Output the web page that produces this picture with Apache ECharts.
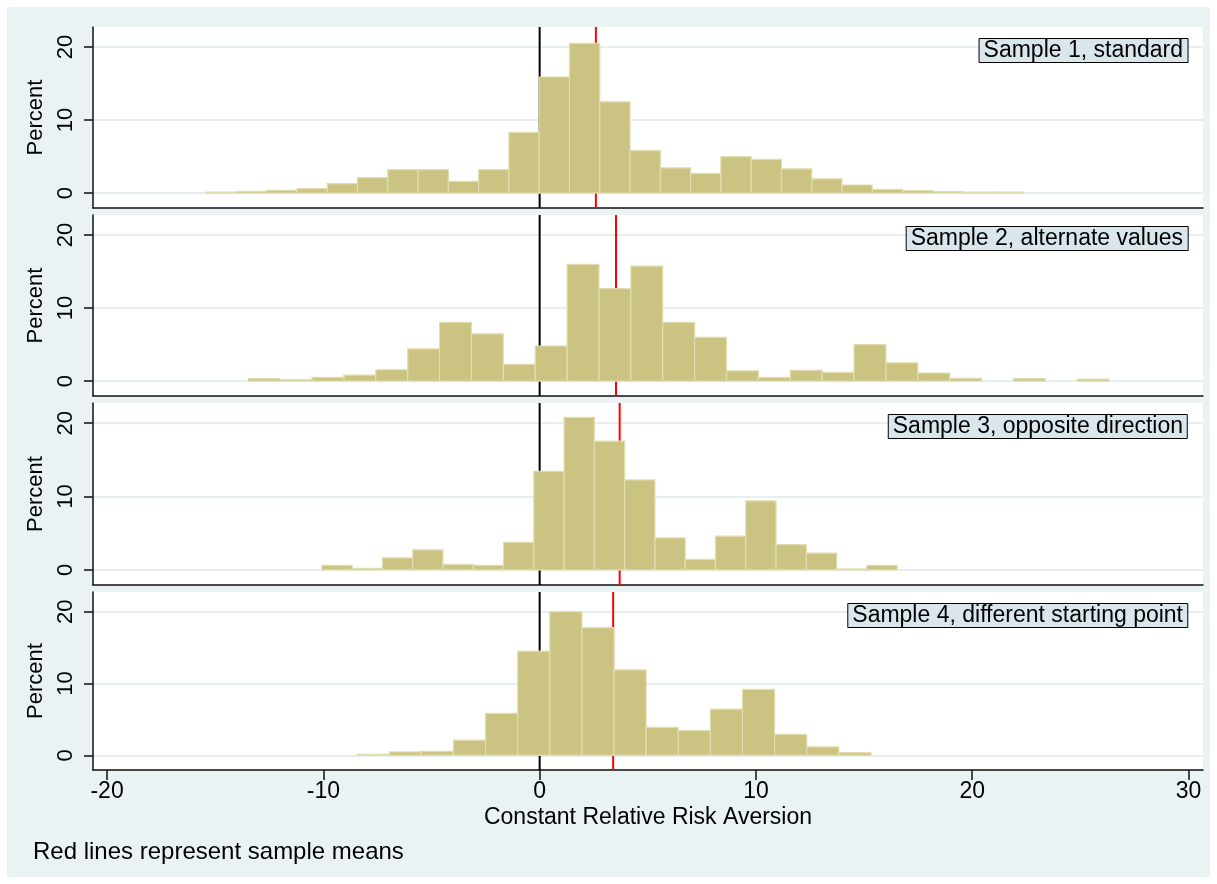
<!DOCTYPE html>
<html>
<head>
<meta charset="utf-8">
<script src="https://cdn.jsdelivr.net/npm/echarts@6/dist/echarts.min.js"></script>
<style>
html, body { margin: 0; padding: 0; background: #fff; }
#chart { width: 1217px; height: 884px; }
</style>
</head>
<body>
<div id="chart"></div>
<script>
// histogram data, percent per bin
const panelLabels = ['Sample 1, standard', 'Sample 2, alternate values', 'Sample 3, opposite direction', 'Sample 4, different starting point'];
const binStart = [-15.42, -13.47, -10.07, -8.44];
const binWidth = [1.4, 1.474, 1.4, 1.485];
const sample1 = [0.14, 0.23, 0.36, 0.6, 1.3, 2.1, 3.2, 3.2, 1.6, 3.2, 8.3, 15.9, 20.5, 12.5, 5.8, 3.45, 2.7, 5.0, 4.6, 3.3, 1.95, 1.1, 0.5, 0.32, 0.18, 0.14, 0.14];
const sample2 = [0.32, 0.18, 0.5, 0.82, 1.55, 4.4, 8.05, 6.45, 2.3, 4.8, 16.0, 12.65, 15.75, 8.05, 6.0, 1.4, 0.5, 1.45, 1.2, 5.0, 2.5, 1.1, 0.36, 0, 0.32, 0, 0.27];
const sample3 = [0.64, 0.23, 1.64, 2.73, 0.77, 0.64, 3.77, 13.45, 20.8, 17.55, 12.27, 4.36, 1.45, 4.6, 9.4, 3.45, 2.3, 0.14, 0.64];
const sample4 = [0.14, 0.47, 0.56, 2.1, 5.83, 14.5, 20.0, 17.8, 11.9, 3.9, 3.45, 6.43, 9.18, 2.9, 1.17, 0.37];
const sampleMeans = [2.6, 3.53, 3.7, 3.4];
const xTicks = [-20, -10, 0, 10, 20, 30];
const yTicks = [0, 10, 20];

const samples = [sample1, sample2, sample3, sample4];

const X_MIN = -20.65, X_MAX = 30.67;
const Y_MIN = -2.05, Y_MAX = 22.75;
const FONT = 'Liberation Sans, Arial, sans-serif';
const BAR_FILL = '#cbc381';
const BAR_EDGE = '#e2ddb0';
const GRID_LINE = '#e6eef0';

const tops = [27, 215, 403, 592];
const heights = [181, 181, 182, 178];

var chart = echarts.init(document.getElementById('chart'));

var grids = [], xAxes = [], yAxes = [], series = [], titles = [];

tops.forEach(function (top, i) {
  var last = i === tops.length - 1;
  grids.push({
    left: 93, right: 14, top: top, height: heights[i],
    show: true, backgroundColor: '#fff', borderWidth: 0
  });
  xAxes.push({
    type: 'value', gridIndex: i, min: X_MIN, max: X_MAX,
    axisLine: { show: true, onZero: false, lineStyle: { color: '#111', width: 1.5 } },
    axisTick: { show: last, customValues: xTicks, length: 10, lineStyle: { color: '#111', width: 1.5 } },
    axisLabel: { show: last, customValues: xTicks, margin: 10, fontSize: 23, fontFamily: FONT, color: '#000' },
    splitLine: { show: false },
    name: last ? 'Constant Relative Risk Aversion' : '',
    nameLocation: 'middle', nameGap: 36,
    nameTextStyle: { fontSize: 23, fontFamily: FONT, color: '#000' }
  });
  yAxes.push({
    type: 'value', gridIndex: i, min: Y_MIN, max: Y_MAX,
    axisLine: { show: true, onZero: false, lineStyle: { color: '#111', width: 1.5 } },
    axisTick: { show: true, customValues: yTicks, length: 9, lineStyle: { color: '#111', width: 1.5 } },
    axisLabel: { customValues: yTicks, rotate: 90, margin: 16, fontSize: 22, fontFamily: FONT, color: '#000' },
    splitLine: { show: true, lineStyle: { color: GRID_LINE, width: 2 } },
    name: 'Percent', nameLocation: 'middle', nameGap: 42,
    nameTextStyle: { fontSize: 22, fontFamily: FONT, color: '#000' }
  });

  // zero line and sample mean, behind the bars
  series.push({
    type: 'line', xAxisIndex: i, yAxisIndex: i, silent: true, symbol: 'none', z: 2,
    lineStyle: { color: '#000', width: 2 },
    data: [[0, Y_MIN], [0, Y_MAX]]
  });
  series.push({
    type: 'line', xAxisIndex: i, yAxisIndex: i, silent: true, symbol: 'none', z: 2,
    lineStyle: { color: '#ff0000', width: 2 },
    data: [[sampleMeans[i], Y_MIN], [sampleMeans[i], Y_MAX]]
  });

  var bins = samples[i].map(function (h, k) {
    return [binStart[i] + k * binWidth[i], binStart[i] + (k + 1) * binWidth[i], h];
  });
  series.push({
    type: 'custom', xAxisIndex: i, yAxisIndex: i, z: 3, silent: true,
    encode: { x: [0, 1], y: 2 },
    data: bins,
    renderItem: function (params, api) {
      var h = api.value(2);
      if (!h) return null;
      var p0 = api.coord([api.value(0), h]);
      var p1 = api.coord([api.value(1), 0]);
      return {
        type: 'rect',
        shape: { x: p0[0], y: p0[1], width: p1[0] - p0[0], height: p1[1] - p0[1] },
        style: { fill: BAR_FILL, stroke: BAR_EDGE, lineWidth: 1.2 }
      };
    }
  });

  titles.push({
    text: panelLabels[i], right: 29, top: top + 11,
    padding: [1, 5], backgroundColor: '#d9e6ec', borderColor: '#000', borderWidth: 1,
    textStyle: { fontSize: 23, fontWeight: 'normal', fontFamily: FONT, color: '#000' }
  });
});

var option = {
  animation: false,
  backgroundColor: '#fff',
  title: titles,
  grid: grids,
  xAxis: xAxes,
  yAxis: yAxes,
  series: series,
  graphic: [
    { type: 'rect', z: -100, silent: true, shape: { x: 7, y: 7, width: 1203, height: 870 }, style: { fill: '#eaf2f3' } },
    { type: 'text', left: 33, top: 840, silent: true,
      style: { text: 'Red lines represent sample means', fontSize: 24, fontFamily: FONT, fill: '#000' } }
  ]
};

chart.setOption(option);
</script>
</body>
</html>
